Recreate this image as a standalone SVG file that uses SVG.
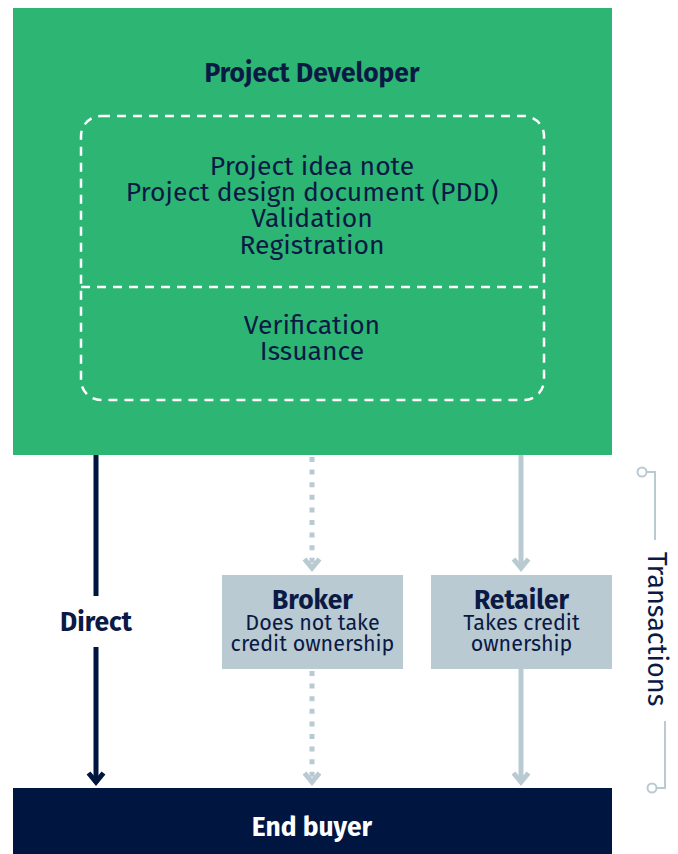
<svg xmlns="http://www.w3.org/2000/svg" width="678" height="854" viewBox="0 0 678 854">
<style>
text{font-family:"Fira Sans","Noto Sans","Open Sans","Liberation Sans",sans-serif;fill:#0B1A45;text-anchor:middle}
.b{font-weight:700;font-size:26.4px}
.t{font-size:26.5px}
.s{font-size:21.5px}
.w{fill:#fff}
.navy{stroke:#001540;stroke-width:5;fill:none}
.lt{stroke:#B9CAD3;stroke-width:5;fill:none}
</style>
<rect width="678" height="854" fill="#fff"/>
<g id="developer">
<rect x="13" y="8" width="599" height="447" fill="#2DB673"/>
<text x="312" y="82" class="b">Project Developer</text>
<rect x="81" y="116" width="463" height="284" rx="20" fill="none" stroke="#fff" stroke-width="2.5" stroke-dasharray="9 7"/>
<line x1="81" y1="287" x2="544" y2="287" stroke="#fff" stroke-width="2.5" stroke-dasharray="9 7"/>
<text x="312" y="175" class="t">Project idea note</text>
<text x="312" y="201" class="t">Project design document (PDD)</text>
<text x="312" y="227" class="t">Validation</text>
<text x="312" y="254" class="t">Registration</text>
<text x="312" y="334" class="t">Verification</text>
<text x="312" y="360" class="t">Issuance</text>
</g>
<g id="connectors">
<line x1="96" y1="455" x2="96" y2="596" class="navy"/>
<line x1="96" y1="647" x2="96" y2="783" class="navy"/>
<path d="M88.5,773 L96,782 L103.5,773" class="navy"/>
<line x1="312" y1="457" x2="312" y2="568" class="lt" stroke-dasharray="5 7.6"/>
<path d="M304.5,559 L312,568 L319.5,559" class="lt"/>
<line x1="312" y1="671" x2="312" y2="781" class="lt" stroke-dasharray="5 7.6"/>
<path d="M304.5,773 L312,782 L319.5,773" class="lt"/>
<line x1="521" y1="455" x2="521" y2="568" class="lt"/>
<path d="M513.5,559 L521,568 L528.5,559" class="lt"/>
<line x1="521" y1="669" x2="521" y2="782" class="lt"/>
<path d="M513.5,773 L521,782 L528.5,773" class="lt"/>
</g>
<g id="direct">
<text x="96" y="631" class="b">Direct</text>
</g>
<g id="broker">
<rect x="222" y="575" width="181" height="94" fill="#B9CAD3"/>
<text x="312.5" y="609" class="b">Broker</text>
<text x="312.5" y="630" class="s">Does not take</text>
<text x="312.5" y="651" class="s">credit ownership</text>
</g>
<g id="retailer">
<rect x="431" y="575" width="181" height="94" fill="#B9CAD3"/>
<text x="521.5" y="609" class="b">Retailer</text>
<text x="521.5" y="630" class="s">Takes credit</text>
<text x="521.5" y="651" class="s">ownership</text>
</g>
<g id="end-buyer">
<rect x="13" y="788" width="599" height="66" fill="#001540"/>
<text x="312" y="836" class="b w">End buyer</text>
</g>
<g id="transactions">
<circle cx="642" cy="472" r="4.5" fill="none" stroke="#B9CAD3" stroke-width="2"/>
<path d="M646.5,472 H655 V540" fill="none" stroke="#B9CAD3" stroke-width="2"/>
<path d="M665,721 V788 H656.5" fill="none" stroke="#B9CAD3" stroke-width="2"/>
<circle cx="652" cy="788" r="4.5" fill="none" stroke="#B9CAD3" stroke-width="2"/>
<text x="629" y="-648" transform="rotate(90)" font-size="27">Transactions</text>
</g>
</svg>
